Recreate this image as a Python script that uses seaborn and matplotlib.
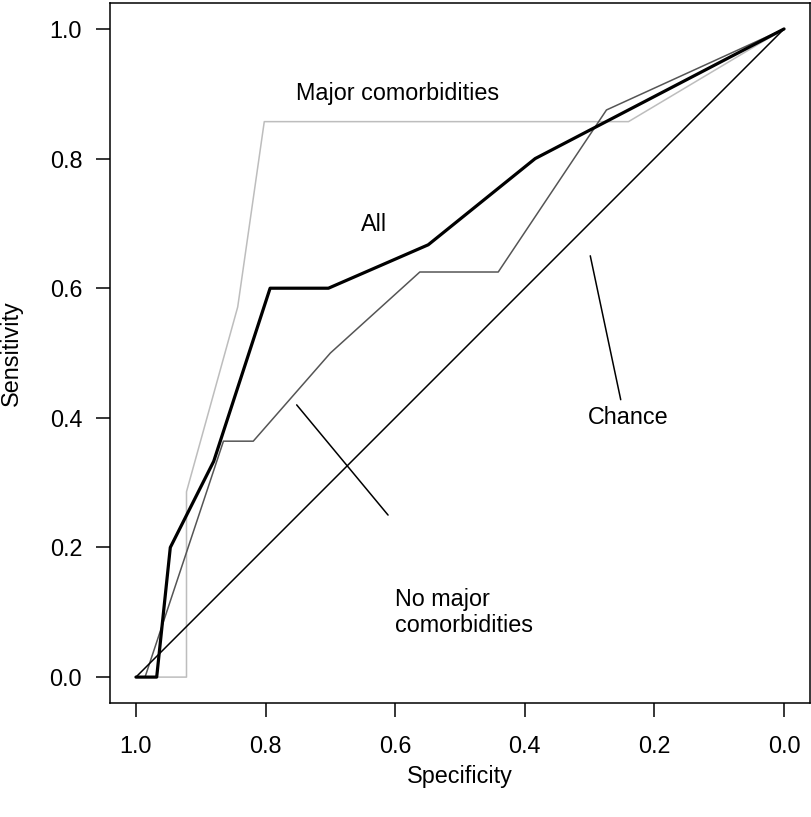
import matplotlib
matplotlib.use("Agg")
import matplotlib.pyplot as plt
import seaborn as sns
import pandas as pd

# ROC points (specificity, sensitivity)
all_spec = [1.0, 0.968, 0.947, 0.88, 0.793, 0.703, 0.549, 0.384, 0.0]
all_sens = [0.0, 0.0, 0.2, 0.333, 0.6, 0.6, 0.667, 0.8, 1.0]

nomaj_spec = [1.0, 0.986, 0.865, 0.819, 0.70, 0.562, 0.441, 0.274, 0.0]
nomaj_sens = [0.0, 0.0, 0.364, 0.364, 0.5, 0.625, 0.625, 0.875, 1.0]

maj_spec = [1.0, 0.922, 0.922, 0.843, 0.802, 0.240, 0.0]
maj_sens = [0.0, 0.0, 0.286, 0.571, 0.857, 0.857, 1.0]

chance_spec = [1.0, 0.0]
chance_sens = [0.0, 1.0]

ticks = [0.0, 0.2, 0.4, 0.6, 0.8, 1.0]

sns.set_style("ticks")
plt.rcParams['font.family'] = ['Liberation Sans', 'DejaVu Sans']
plt.rcParams['text.color'] = 'black'
plt.rcParams['axes.labelcolor'] = 'black'
plt.rcParams['xtick.color'] = 'black'
plt.rcParams['ytick.color'] = 'black'

FS = 16.8

fig = plt.figure(figsize=(8.12, 8.17), dpi=100)
ax = fig.add_axes([0.1355, 0.1395, 0.862, 0.8568])

curves = [
    (maj_spec, maj_sens, '#bdbdbd', 1.1),
    (nomaj_spec, nomaj_sens, '#555555', 1.1),
    (chance_spec, chance_sens, 'black', 1.1),
    (all_spec, all_sens, 'black', 2.3),
]
for spec, sens, col, lw in curves:
    df = pd.DataFrame({'spec': spec, 'sens': sens})
    sns.lineplot(data=df, x='spec', y='sens', sort=False, estimator=None,
                 color=col, linewidth=lw, ax=ax)

ax.set_xlim(1.04, -0.04)
ax.set_ylim(-0.04, 1.04)
ax.set_xticks(ticks)
ax.set_yticks(ticks)
ax.set_xticklabels([f'{t:.1f}' for t in ticks])
ax.set_yticklabels([f'{t:.1f}' for t in ticks])
ax.tick_params(axis='both', length=10, width=1.1, labelsize=FS, direction='out')
ax.tick_params(axis='x', pad=13)
ax.tick_params(axis='y', pad=10)
for s in ax.spines.values():
    s.set_visible(True)
    s.set_linewidth(1.1)
    s.set_color('black')

ax.set_xlabel('Specificity', fontsize=FS, labelpad=5)
ax.set_ylabel('Sensitivity', fontsize=FS)
ax.yaxis.set_label_coords(-0.124, 0.5)

# curve labels and pointer lines
ax.text(0.596, 0.90, 'Major comorbidities', fontsize=FS, ha='center', va='center')
ax.text(0.633, 0.698, 'All', fontsize=FS, ha='center', va='center')
ax.text(0.241, 0.40, 'Chance', fontsize=FS, ha='center', va='center')
ax.text(0.600, 0.10, 'No major\ncomorbidities', fontsize=FS, ha='left',
        va='center', linespacing=1.15)
ax.annotate('', xy=(0.299, 0.65), xytext=(0.252, 0.428),
            arrowprops=dict(arrowstyle='-', color='black', lw=1.1,
                            shrinkA=0, shrinkB=0))
ax.annotate('', xy=(0.752, 0.42), xytext=(0.611, 0.25),
            arrowprops=dict(arrowstyle='-', color='black', lw=1.1,
                            shrinkA=0, shrinkB=0))

fig.savefig('out.png', dpi=100)
